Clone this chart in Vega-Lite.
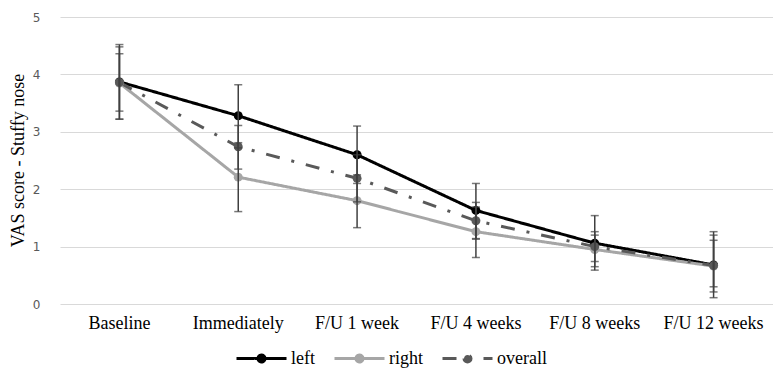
{
  "$schema": "https://vega.github.io/schema/vega-lite/v6.json",
  "width": 713,
  "height": 287,
  "autosize": {"type": "none"},
  "padding": {"left": 60, "top": 17, "right": 0, "bottom": 70},
  "background": "white",
  "config": {
    "font": "Liberation Serif",
    "view": {"stroke": null},
    "axisX": {"labelAngle": 0, "domain": false, "ticks": false, "grid": false, "labelFont": "Liberation Serif", "labelFontSize": 18, "labelColor": "#000000", "labelPadding": 10},
    "axisY": {
      "domain": false, "ticks": false, "grid": true, "gridColor": "#d9d9d9", "gridWidth": 1,
      "labelFont": "DejaVu Sans", "labelFontSize": 12, "labelColor": "#595959", "labelPadding": 20,
      "titleFont": "Liberation Serif", "titleFontSize": 18, "titleFontWeight": "normal", "titleColor": "#000000"
    },
    "legend": {"labelFont": "Liberation Serif", "labelFontSize": 18, "labelColor": "#000000"}
  },
  "data": {"values": [
    {"time": "Baseline", "series": "left", "mean": 3.87, "lo": 3.22, "hi": 4.52},
    {"time": "Immediately", "series": "left", "mean": 3.28, "lo": 2.72, "hi": 3.82},
    {"time": "F/U 1 week", "series": "left", "mean": 2.60, "lo": 2.10, "hi": 3.10},
    {"time": "F/U 4 weeks", "series": "left", "mean": 1.63, "lo": 1.14, "hi": 2.10},
    {"time": "F/U 8 weeks", "series": "left", "mean": 1.06, "lo": 0.59, "hi": 1.54},
    {"time": "F/U 12 weeks", "series": "left", "mean": 0.68, "lo": 0.11, "hi": 1.26},
    {"time": "Baseline", "series": "right", "mean": 3.85, "lo": 3.22, "hi": 4.48},
    {"time": "Immediately", "series": "right", "mean": 2.21, "lo": 1.61, "hi": 2.81},
    {"time": "F/U 1 week", "series": "right", "mean": 1.80, "lo": 1.33, "hi": 2.25},
    {"time": "F/U 4 weeks", "series": "right", "mean": 1.26, "lo": 0.81, "hi": 1.69},
    {"time": "F/U 8 weeks", "series": "right", "mean": 0.95, "lo": 0.65, "hi": 1.20},
    {"time": "F/U 12 weeks", "series": "right", "mean": 0.66, "lo": 0.21, "hi": 1.20},
    {"time": "Baseline", "series": "overall", "mean": 3.86, "lo": 3.36, "hi": 4.36},
    {"time": "Immediately", "series": "overall", "mean": 2.74, "lo": 2.35, "hi": 3.11},
    {"time": "F/U 1 week", "series": "overall", "mean": 2.19, "lo": 1.78, "hi": 2.60},
    {"time": "F/U 4 weeks", "series": "overall", "mean": 1.45, "lo": 1.13, "hi": 1.77},
    {"time": "F/U 8 weeks", "series": "overall", "mean": 1.00, "lo": 0.74, "hi": 1.26},
    {"time": "F/U 12 weeks", "series": "overall", "mean": 0.67, "lo": 0.30, "hi": 1.11}
  ]},
  "encoding": {
    "x": {
      "field": "time", "type": "nominal",
      "sort": ["Baseline", "Immediately", "F/U 1 week", "F/U 4 weeks", "F/U 8 weeks", "F/U 12 weeks"],
      "scale": {"paddingInner": 0, "paddingOuter": 0},
      "axis": {"title": null, "labelFont": "Liberation Serif", "labelFontSize": 18, "labelColor": "#000000"}
    }
  },
  "layer": [
    {
      "mark": {"type": "line", "strokeWidth": 3},
      "encoding": {
        "y": {
          "field": "mean", "type": "quantitative",
          "scale": {"domain": [0, 5]},
          "axis": {
            "title": "VAS score - Stuffy nose", "values": [0, 1, 2, 3, 4, 5], "labelOverlap": false,
            "titleX": -42, "titleY": 143, "titleAngle": -90, "titleAlign": "center", "titleBaseline": "middle"
          }
        },
        "color": {
          "field": "series", "type": "nominal",
          "scale": {"domain": ["left", "right", "overall"], "range": ["#000000", "#a6a6a6", "#595959"]},
          "legend": {
            "title": null, "orient": "none", "direction": "horizontal", "legendX": 175, "legendY": 315,
            "symbolType": "M-1,0L1,0M-0.14,0a0.14,0.14 0 1,0 0.28,0a0.14,0.14 0 1,0 -0.28,0",
            "symbolSize": 2500, "symbolStrokeWidth": 3, "labelFont": "Liberation Serif", "labelFontSize": 18,
            "labelColor": "#000000", "labelOffset": 3, "columnPadding": 13, "padding": 0
          }
        },
        "strokeDash": {
          "field": "series", "type": "nominal",
          "scale": {"domain": ["left", "right", "overall"], "range": [[1, 0], [1, 0], [14, 12, 3, 12]]},
          "legend": null
        }
      }
    },
    {
      "mark": {"type": "point", "filled": true, "size": 80, "opacity": 1},
      "encoding": {
        "y": {"field": "mean", "type": "quantitative",
          "axis": {
            "title": "VAS score - Stuffy nose", "values": [0, 1, 2, 3, 4, 5], "labelOverlap": false,
            "titleX": -42, "titleY": 143, "titleAngle": -90, "titleAlign": "center", "titleBaseline": "middle"
          }},
        "color": {"field": "series", "type": "nominal", "legend": null}
      }
    },
    {
      "mark": {"type": "rule", "color": "#404040", "strokeWidth": 1.5},
      "encoding": {
        "y": {"field": "lo", "type": "quantitative",
          "axis": {
            "title": "VAS score - Stuffy nose", "values": [0, 1, 2, 3, 4, 5], "labelOverlap": false,
            "titleX": -42, "titleY": 143, "titleAngle": -90, "titleAlign": "center", "titleBaseline": "middle"
          }},
        "y2": {"field": "hi"}
      }
    },
    {
      "mark": {"type": "tick", "color": "#404040", "orient": "horizontal", "size": 8, "thickness": 1.5},
      "encoding": {"y": {"field": "lo", "type": "quantitative",
          "axis": {
            "title": "VAS score - Stuffy nose", "values": [0, 1, 2, 3, 4, 5], "labelOverlap": false,
            "titleX": -42, "titleY": 143, "titleAngle": -90, "titleAlign": "center", "titleBaseline": "middle"
          }}}
    },
    {
      "mark": {"type": "tick", "color": "#404040", "orient": "horizontal", "size": 8, "thickness": 1.5},
      "encoding": {"y": {"field": "hi", "type": "quantitative",
          "axis": {
            "title": "VAS score - Stuffy nose", "values": [0, 1, 2, 3, 4, 5], "labelOverlap": false,
            "titleX": -42, "titleY": 143, "titleAngle": -90, "titleAlign": "center", "titleBaseline": "middle"
          }}}
    }
  ]
}
